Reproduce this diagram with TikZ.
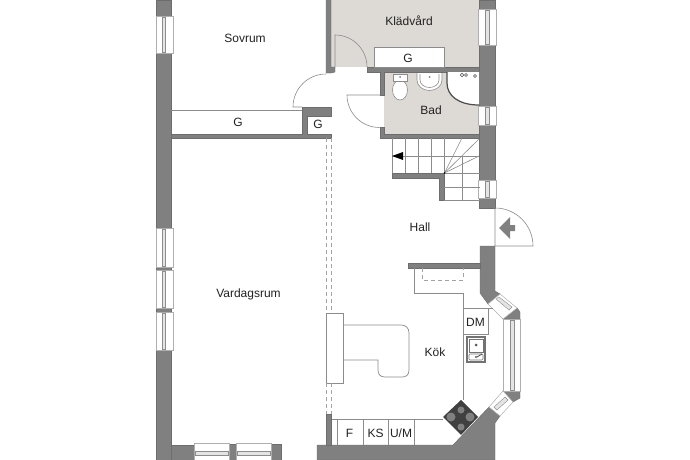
\documentclass[tikz,border=0pt]{standalone}
\usepackage{fontspec}
\setmainfont{Liberation Sans}
\tikzset{
  x=1pt,y=-1pt,
  wall/.style={fill=wallc,draw=wallc!85!black,line width=0.4pt},
  thin line/.style={draw=linec,line width=0.7pt},
  door/.style={draw=linec,line width=0.6pt},
  label/.style={font=\fontsize{12}{13}\selectfont,text=textc,inner sep=0pt},
  winframe/.style={fill=white,draw=linec!70,line width=0.5pt},
  winglass/.style={fill=glassc,draw=linec,line width=0.4pt},
  stairline/.style={draw=linec,line width=0.6pt},
  dashline/.style={draw=linec!80,line width=0.6pt,dash pattern=on 4pt off 3pt},
  fixture/.style={fill=white,draw=linec,line width=0.6pt},
}
\definecolor{wallc}{HTML}{808080}
\definecolor{linec}{HTML}{8C8C8C}
\definecolor{textc}{HTML}{222222}
\definecolor{floorc}{HTML}{DDD9D5}
\definecolor{glassc}{HTML}{E4E4E4}
\begin{document}
\begin{tikzpicture}
\useasboundingbox (0,0) rectangle (690,460);
\fill[white] (0,0) rectangle (690,460);
% floors
\fill[floorc] (331,0) rectangle (479,67);
\fill[floorc] (384,72) rectangle (479,134);
% walls
\fill[wall] (156,0) rectangle (171,460);
\fill[wall] (171,445) rectangle (194,460);
\fill[wall] (229,444) rectangle (236,460);
\fill[wall] (271,444) rectangle (281,460);
\fill[wall] (326,0) -- (331,0) -- (331,67) -- (335,67) -- (335,72) -- (331,73) -- (326,73) -- cycle;
\fill[wall] (367,67) -- (479,67) -- (479,72) -- (384,72) -- (384,95) -- (380,95) -- (380,72) -- (367,72) -- cycle;
\fill[wall] (380,127) -- (384,127) -- (384,134) -- (479,134) -- (479,138) -- (380,138) -- cycle;
\fill[wall] (479,0) rectangle (495,208);
\fill[wall] (302,107) -- (331,107) -- (331,116) -- (307,116) -- (307,134) -- (331,134) -- (331,138) -- (171,138) -- (171,134) -- (302,134) -- cycle;
\fill[wall] (480,246) -- (495,246) -- (495,291) -- (500,294) -- (488,304) -- (480,293) -- cycle;
\fill[wall] (503,319) -- (517,308) -- (520,312) -- (520,319) -- cycle;
\fill[wall] (503,391) -- (520,391) -- (520,398) -- (513,402) -- cycle;
\fill[wall] (489,407) -- (500,416) -- (495,423) -- (495,460) -- (317,460) -- (317,445) -- (453,445) -- cycle;
\fill[wall] (326,414) rectangle (331,445);
\fill[wall] (408,263) rectangle (480,268);
\fill[wall] (392,173) -- (444,173) -- (444,200) -- (439,200) -- (439,178) -- (392,178) -- cycle;
% left windows
\foreach \a/\b in {16/53,228/267,270/308,312/350}{
  \draw[winframe] (156,\a) rectangle (173,\b);
  \draw[winglass] (162,\a+1) rectangle (165.5,\b-1);
}
% bottom windows
\foreach \a/\b in {194/229,236/271}{
  \fill[white] (\a,444) rectangle (\b,460);
  \draw[winframe] (\a,443) -- (\b,443) (\a,443) -- (\a,460) (\b,443) -- (\b,460);
  \draw[winglass] (\a+1,451) rectangle (\b-1,455);
}
% right windows
\foreach \a/\b in {9/45,106/125,180/198}{
  \draw[winframe] (478,\a) rectangle (496,\b);
  \draw[winglass] (485,\a+1) rectangle (489,\b-1);
}
% bay windows
\draw[winframe] (503,319) rectangle (520,391);
\draw[winglass] (510,320) rectangle (514,390);
\draw[winframe] (488,304) -- (500,294) -- (517,308) -- (503,319) -- cycle;
\draw[winglass] (496,299) -- (499,297) -- (512,307) -- (509,310) -- cycle;
\draw[winframe] (503,391) -- (513,402) -- (500,416) -- (489,407) -- cycle;
\draw[winglass] (505,397) -- (508,400) -- (497,410) -- (494,407) -- cycle;
% storage
\draw[fixture,draw=linec] (374,47) rectangle (444,67);
\draw[thin line] (171,110) -- (302,110);
% doors (y axis points down, so angles run clockwise on the page)
\draw[door] (335,67) -- (335,35) arc[start angle=-90,end angle=0,radius=32];
\draw[door] (326,74) arc[start angle=-90,end angle=-180,radius=33] -- (302,107);
\draw[door] (380,95) -- (347,95) arc[start angle=180,end angle=90,radius=32.5];
\draw[door] (495,208) arc[start angle=-90,end angle=0,radius=38] -- (495,246) -- cycle;
\fill[wallc] (499,228) -- (510,217) -- (510,225) -- (515,225) -- (515,231) -- (510,231) -- (510,239) -- cycle;
% bathroom fixtures
\draw[fixture] (400,90) ellipse[x radius=7.5,y radius=10];
\draw[fixture] (393,74) rectangle (407,81);
\fill[wallc] (400,77) circle[radius=1];
\draw[fixture] (417,73) -- (417,80) arc[start angle=180,end angle=0,x radius=12.5,y radius=10.5] -- (442,73);
\draw[fixture] (420,74) -- (420,80) arc[start angle=180,end angle=0,x radius=9.5,y radius=7.5] -- (439,74);
\fill[wallc] (429.5,77) circle[radius=1];
\fill[white] (447,72) -- (447,83) .. controls (447,96) and (459,105) .. (479,105) -- (479,72) -- cycle;
\draw[line width=1.2pt,draw=black!70] (447,72) -- (447,83) .. controls (447,96) and (459,105) .. (479,105);
\draw[draw=black!70,line width=0.5pt] (462,75) circle[radius=1.8] (466,75) circle[radius=1.5] (475,76) circle[radius=1.5];
% stairs
\foreach \x in {392,405,418,431,444}{\draw[stairline] (\x,138) -- (\x,173);}
\draw[stairline] (392,156) -- (479,156);
\draw[stairline] (462,138) -- (444.5,173) -- (479,139);
\draw[stairline] (444.5,173) -- (479,156);
\draw[stairline] (444,173) -- (480,173);
\draw[stairline] (444,187) -- (480,187);
\draw[stairline] (444,200) -- (480,200);
\draw[stairline] (462,156) -- (462,200);
\fill[black] (392,156) -- (403,152) -- (403,160) -- cycle;
\fill[black] (444.5,173) circle[radius=0.9];
% kitchen counters
\draw[thin line] (414,268) -- (414,293) -- (463,293) -- (463,400);
\draw[dashline] (422,268) -- (422,280) -- (463,280) -- (463,268);
\draw[thin line] (463,308) rectangle (488,334);
\draw[thin line] (488,308) -- (493,308);
\draw[thin line] (332,419) -- (443,419);
\foreach \x in {337,363,388,414}{\draw[thin line] (\x,419) -- (\x,445);}
% island
\draw[thin line] (326,313) rectangle (343,383);
\draw[thin line] (343,325) -- (401,325) .. controls (406,325) and (409,328) .. (409,333) -- (409,370) .. controls (409,375) and (406,377) .. (402,377) -- (385,377) .. controls (380,377) and (378,374) .. (378,370) -- (378,360) -- (343,360);
% dashed opening
\foreach \x in {326,331}{
  \draw[dashline] (\x,138) -- (\x,313);
  \draw[dashline] (\x,383) -- (\x,414);
}
% sink
\draw[draw=black!55,fill=white,line width=1.1pt] (467,337) rectangle (485,362);
\draw[draw=black!55,fill=white,line width=0.6pt] (469,339) rectangle (483,352);
\draw[draw=black!55,line width=0.6pt,rounded corners=1pt] (469,354) rectangle (483,360);
\fill[black!65] (476,345) circle[radius=1.5] (476,357) circle[radius=1.2];
\draw[black!70,line width=0.8pt] (477,357) -- (482,354);
% hob
\fill[black!75] (443,417) -- (461,400) -- (478,417) -- (461,435) -- cycle;
\fill[wallc] (461,410) circle[radius=3.5] (451,417) circle[radius=4.5] (470,417) circle[radius=4.5] (461,427) circle[radius=3.5];
% labels
\node[label] (klad) at (409,21) {Klädvård};
\node[label] (g1) at (408,58) {G};
\node[label] (bad) at (431,110) {Bad};
\node[label] (sov) at (245,38) {Sovrum};
\node[label] (g2) at (238,122) {G};
\node[label] (g3) at (318,124.5) {G};
\node[label] (hall) at (420,227) {Hall};
\node[label] (var) at (248.5,294) {Vardagsrum};
\node[label] (kok) at (435,352.5) {Kök};
\node[label] (dm) at (475.5,322.5) {DM};
\node[label] (f) at (349.5,433.5) {F};
\node[label] (ks) at (375.5,433.5) {KS};
\node[label] (um) at (401,433.5) {U/M};
\end{tikzpicture}
\end{document}
